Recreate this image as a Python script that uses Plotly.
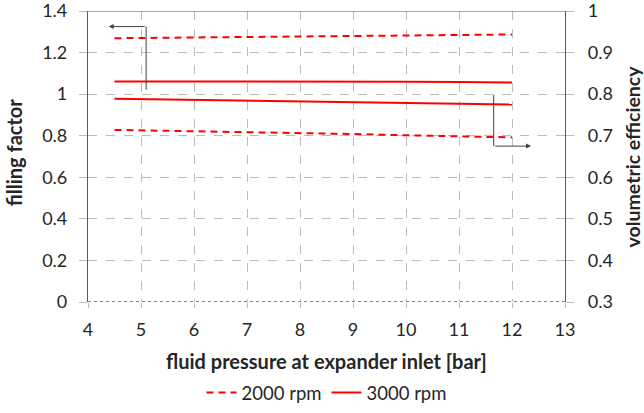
import plotly.graph_objects as go

pressure = [4.5, 5, 6, 7, 8, 9, 10, 11, 12]
ff_2000 = [1.269, 1.270, 1.273, 1.276, 1.279, 1.281, 1.283, 1.285, 1.287]
ff_3000 = [1.061, 1.061, 1.062, 1.062, 1.062, 1.061, 1.060, 1.058, 1.056]
ve_2000 = [0.714, 0.713, 0.711, 0.708, 0.706, 0.704, 0.701, 0.699, 0.696]
ve_3000 = [0.789, 0.788, 0.787, 0.785, 0.783, 0.781, 0.779, 0.777, 0.775]

x_ticks = [4, 5, 6, 7, 8, 9, 10, 11, 12, 13]
ff_ticks = [0, 0.2, 0.4, 0.6, 0.8, 1, 1.2, 1.4]
ff_labels = ["0", "0.2", "0.4", "0.6", "0.8", "1", "1.2", "1.4"]
ve_ticks = [0.3, 0.4, 0.5, 0.6, 0.7, 0.8, 0.9, 1.0]
ve_labels = ["0.3", "0.4", "0.5", "0.6", "0.7", "0.8", "0.9", "1"]

RED = "#ff0000"
FONT = "Lato"
TXT = "#262626"
GRID = "#bcbcbc"
AX = "#595959"

fig = go.Figure()
fig.add_trace(go.Scatter(x=pressure, y=ff_2000, mode="lines", name="2000 rpm",
                         line=dict(color=RED, width=2, dash="7px,5px"), legendgroup="a"))
fig.add_trace(go.Scatter(x=pressure, y=ff_3000, mode="lines", name="3000 rpm",
                         line=dict(color=RED, width=2), legendgroup="b"))
fig.add_trace(go.Scatter(x=pressure, y=ve_2000, mode="lines", name="2000 rpm", yaxis="y2",
                         line=dict(color=RED, width=2, dash="7px,5px"), legendgroup="a", showlegend=False))
fig.add_trace(go.Scatter(x=pressure, y=ve_3000, mode="lines", name="3000 rpm", yaxis="y2",
                         line=dict(color=RED, width=2), legendgroup="b", showlegend=False))

shapes = [
    dict(type="line", xref="x", yref="y", x0=4, x1=13, y0=0, y1=0,
         line=dict(color=AX, width=1.5, dash="dot")),
    dict(type="line", xref="x", yref="y", x0=4, x1=13, y0=1.4, y1=1.4,
         line=dict(color=AX, width=1.2)),
    dict(type="line", xref="x", yref="y", x0=5.097, x1=5.097, y0=1.021, y1=1.325,
         line=dict(color="#404040", width=1)),
    dict(type="line", xref="x", yref="y", x0=11.655, x1=11.655, y0=0.997, y1=0.75,
         line=dict(color="#404040", width=1)),
]

TITLE_FONT = dict(family=FONT, size=20, color=TXT)
annotations = [
    dict(x=4.39, y=1.325, ax=5.097, ay=1.325, xref="x", yref="y", axref="x", ayref="y",
         showarrow=True, arrowhead=2, arrowsize=1, arrowwidth=1, arrowcolor="#404040", text=""),
    dict(x=12.36, y=0.75, ax=11.655, ay=0.75, xref="x", yref="y", axref="x", ayref="y",
         showarrow=True, arrowhead=2, arrowsize=1, arrowwidth=1, arrowcolor="#404040", text=""),
    dict(text="<b>filling factor</b>", xref="paper", yref="paper", x=-0.155, y=0.515,
         xanchor="center", yanchor="middle", textangle=-90, showarrow=False, font=TITLE_FONT),
    dict(text="<b>volumetric efficiency</b>", xref="paper", yref="paper", x=1.1405, y=0.5,
         xanchor="center", yanchor="middle", textangle=-90, showarrow=False,
         font=dict(family=FONT, size=19.5, color=TXT)),
    dict(text="<b>fluid pressure at expander inlet [bar]</b>", xref="paper", yref="paper",
         x=0.5, y=-0.203, xanchor="center", yanchor="middle", showarrow=False, font=TITLE_FONT),
]

fig.update_layout(
    width=644, height=413,
    margin=dict(l=88, r=79, t=11, b=111, autoexpand=False),
    paper_bgcolor="white", plot_bgcolor="white",
    font=dict(family=FONT, size=18, color=TXT),
    showlegend=True,
    legend=dict(orientation="h", x=0.5, xanchor="center", xref="paper",
                y=(413 - 393) / 413, yanchor="middle", yref="container",
                font=dict(family=FONT, size=18.5, color=TXT), itemwidth=30,
                bgcolor="rgba(0,0,0,0)"),
    xaxis=dict(range=[4, 13], tickvals=x_ticks, showgrid=True, gridcolor=GRID, griddash="dash",
               gridwidth=1, zeroline=False, showline=False, ticks="outside", ticklen=5,
               tickcolor=GRID, tickfont=dict(size=18), automargin=False, ticklabelstandoff=6,
               ticklabeloverflow="allow"),
    yaxis=dict(range=[0, 1.4], tickvals=ff_ticks, ticktext=ff_labels, showgrid=True,
               gridcolor=GRID, griddash="dash",
               gridwidth=1, zeroline=False, showline=True, linecolor=AX, linewidth=1.2,
               ticks="outside", ticklen=8, tickcolor=GRID, tickfont=dict(size=18),
               automargin=False, ticklabelstandoff=8, ticklabeloverflow="allow"),
    yaxis2=dict(range=[0.3, 1.0], tickvals=ve_ticks, ticktext=ve_labels, overlaying="y",
                side="right", showgrid=False,
                zeroline=False, showline=True, linecolor=AX, linewidth=1.2,
                ticks="outside", ticklen=8, tickcolor=GRID, tickfont=dict(size=18),
                automargin=False, ticklabelstandoff=10, ticklabeloverflow="allow"),
    shapes=shapes,
    annotations=annotations,
)

fig.write_html("out.html", config={"displayModeBar": False},
               post_script="document.body.style.margin='0';document.body.style.padding='0';")
